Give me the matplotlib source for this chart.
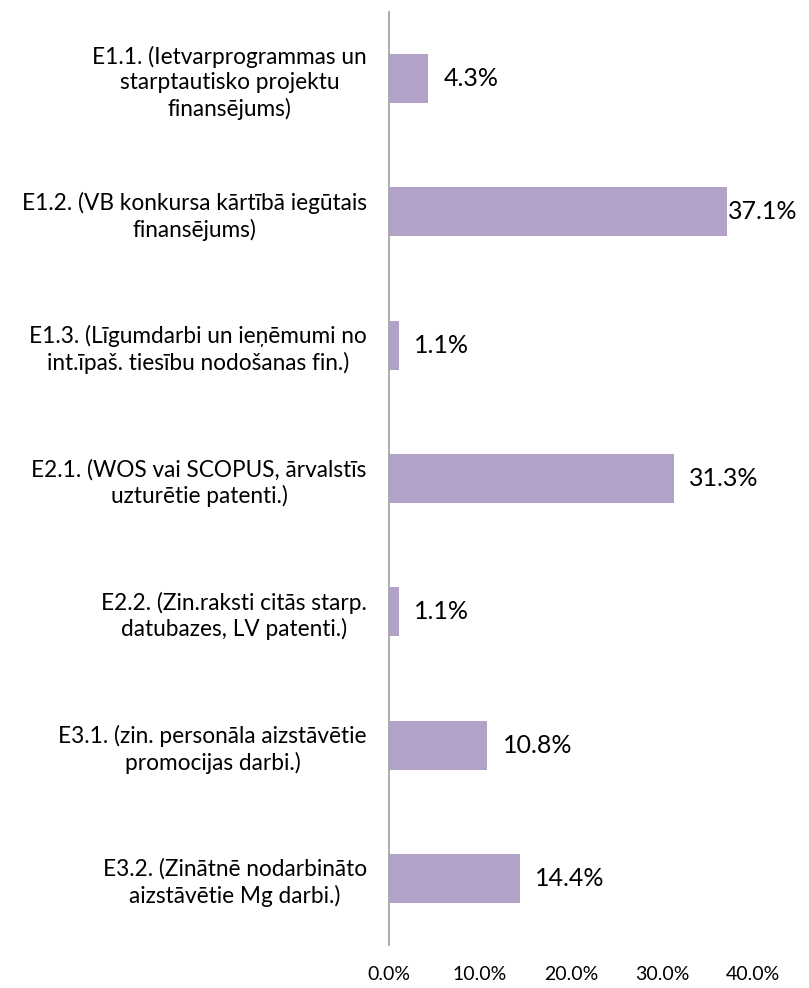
import matplotlib
matplotlib.use("Agg")
import matplotlib.pyplot as plt

categories = [
    "E1.1. (Ietvarprogrammas un\nstarptautisko projektu\nfinansējums)",
    "E1.2. (VB konkursa kārtībā iegūtais\nfinansējums)",
    "E1.3. (Līgumdarbi un ieņēmumi no\nint.īpaš. tiesību nodošanas fin.)",
    "E2.1. (WOS vai SCOPUS, ārvalstīs\nuzturētie patenti.)",
    "E2.2. (Zin.raksti citās starp.\ndatubazes, LV patenti.)",
    "E3.1. (zin. personāla aizstāvētie\npromocijas darbi.)",
    "E3.2. (Zinātnē nodarbināto\naizstāvētie Mg darbi.)",
]
values = [4.3, 37.1, 1.1, 31.3, 1.1, 10.8, 14.4]
xticks = [0, 10, 20, 30, 40]
xtick_labels = ["0.0%", "10.0%", "20.0%", "30.0%", "40.0%"]

W, H = 809, 988
fig = plt.figure(figsize=(W / 100, H / 100), dpi=100)
plt.rcParams['font.family'] = ['Lato', 'DejaVu Sans']

left, right = 389, 753
top, bottom = 12, 945
ax = fig.add_axes([left / W, 1 - bottom / H, (right - left) / W, (bottom - top) / H])

n = len(categories)
ypos = list(range(n))
ax.barh(ypos, values, height=0.367, color="#B3A2C7")
ax.set_ylim(n - 0.5, -0.5)
ax.set_xlim(0, 40)

ax.set_yticks(ypos)
ax.set_yticklabels(categories, fontsize=16.3, multialignment='center', linespacing=1.25)
ax.set_xticks(xticks)
ax.set_xticklabels(xtick_labels, fontsize=14)
ax.tick_params(axis='both', length=0)
ax.tick_params(axis='y', pad=16)
ax.tick_params(axis='x', pad=15)

for s in ['top', 'right', 'bottom']:
    ax.spines[s].set_visible(False)
ax.spines['left'].set_color("#A6A6A6")
ax.spines['left'].set_linewidth(1.3)

fig.canvas.draw()
renderer = fig.canvas.get_renderer()
texts = []
for y, v in zip(ypos, values):
    t = ax.annotate(f"{v:.1f}%", xy=(v, y), xytext=(11, 0), textcoords='offset points',
                    ha='left', va='center', fontsize=18, color="#000000")
    texts.append(t)
fig.canvas.draw()
for t in texts:
    bb = t.get_window_extent(renderer)
    if bb.x1 > W - 12:
        shift = (bb.x1 - (W - 12)) * 72 / 100
        ox, oy = t.xyann
        t.xyann = (ox - shift, oy)

fig.savefig("out.png", dpi=100, facecolor="white")
